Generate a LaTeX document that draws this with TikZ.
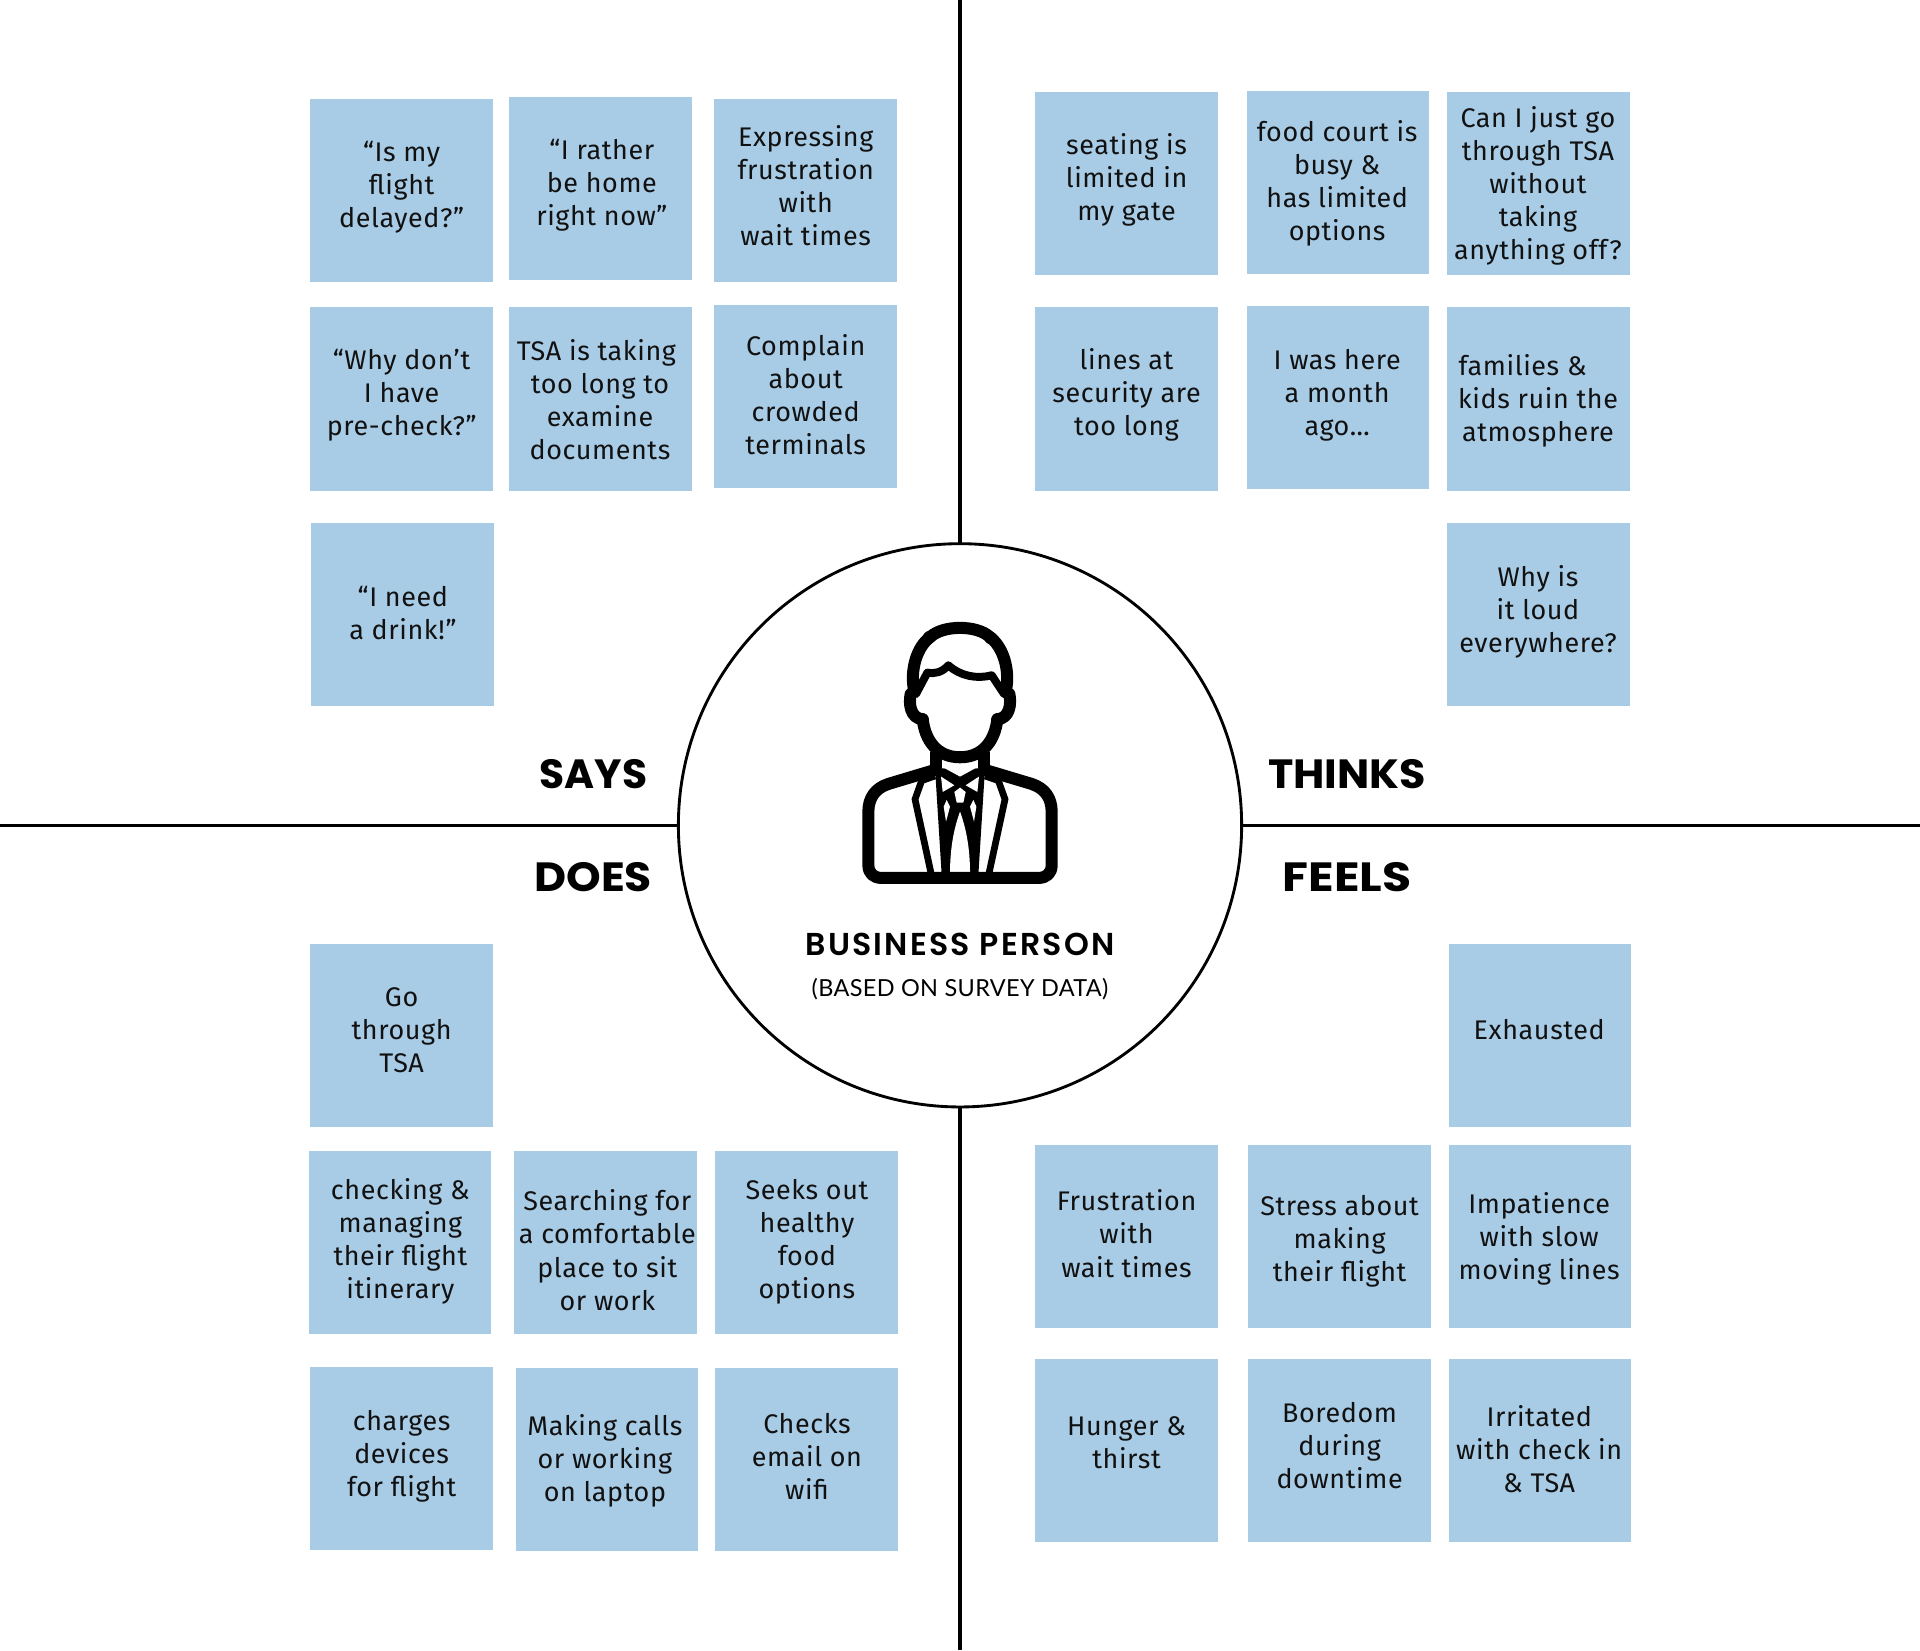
\documentclass[tikz,border=0pt]{standalone}
\usepackage{graphicx}
\usepackage{fontspec}
\setmainfont{Fira Sans}[LetterSpace=2.2]
\newfontfamily\headfont{Poppins}[UprightFont=* Bold]
\newfontfamily\titlefont{Poppins}[UprightFont=* SemiBold,LetterSpace=7]
\newfontfamily\subfont{Lato}[LetterSpace=1.5]
\definecolor{stickyblue}{HTML}{A9CCE6}
\definecolor{ink}{HTML}{111111}
\newcommand{\tsp}{\hspace*{3.6pt}}
\newcommand{\sticky}[6]{%
  \node[stickybox] (#1) at ({#2+74.7},{#3+74.8}) {};
  \node[stickytext] (#1t) at ({#4},{#5+2.5}) {\strut #6\strut};}
\newcommand{\wide}[2]{\scalebox{#1}[1]{#2}}
\tikzset{
  stickybox/.style={fill=stickyblue,draw=none,minimum width=89.6pt,minimum height=89.8pt,inner sep=0pt,outer sep=0pt},
  stickytext/.style={text=ink,align=center,inner sep=0pt,font=\fontsize{13.2pt}{16.2pt}\selectfont},
  quadlabel/.style={text=black,inner sep=0pt,font=\fontsize{20pt}{24pt}\selectfont\headfont},
  axis/.style={draw=black,line width=1.5pt},
  hubring/.style={circle,draw=black,fill=white,line width=1.4pt,minimum size=276pt,inner sep=0pt,outer sep=0pt},
  heavy/.style={line width=5.9pt,line cap=round,line join=round},
  medium/.style={line width=3.9pt,line cap=round,line join=round},
  thin/.style={line width=3.3pt,line cap=butt,line join=miter},
}
\begin{document}
\begin{tikzpicture}[x=0.6pt,y=-0.6pt]
\useasboundingbox (0,0) rectangle (1568,1347.5);
\node[hubring] (hub) at (784,674) {};
\coordinate (topEnd) at (784,0);
\coordinate (botEnd) at (784,1347.5);
\coordinate (leftEnd) at (0,674);
\coordinate (rightEnd) at (1568,674);
\draw[axis] (topEnd) -- (hub.north);
\draw[axis] (botEnd) -- (hub.south);
\draw[axis] (leftEnd) -- (hub.west);
\draw[axis] (rightEnd) -- (hub.east);
% SAYS
\sticky{s1}{253}{81}{328}{151}{“Is my\\flight\\delayed?”}
\sticky{s2}{416}{79}{491.5}{149}{“I rather\\be home\\right now”}
\sticky{s3}{583}{81}{658}{152}{Expressing\\frustration\\with\tsp\\wait times}
\sticky{s4}{253}{251}{328}{321}{“Why don’t\\I have\\pre-check?”}
\sticky{s5}{415.5}{251}{490}{327}{TSA is taking\tsp\\too long to\\examine\tsp\\documents}
\sticky{s6}{583}{249}{658}{323}{Complain\\about\\crowded\\terminals}
\sticky{s7}{254}{427}{329}{501}{“I need\\a drink!”}
% THINKS
\sticky{t1}{845}{75}{920}{145}{seating is\\limited in\\my gate}
\sticky{t2}{1018}{74}{1092}{148}{food court is\\busy \&\tsp\\has limited\tsp\\options}
\sticky{t3}{1182}{75}{1256}{150}{Can I just go\\through TSA\\without\\taking\\anything off?}
\sticky{t4}{845}{251}{920}{321}{lines at\\security are\\too long}
\sticky{t5}{1018}{250}{1092}{321}{I was here\\a month\\ago…}
\sticky{t6}{1182}{251}{1256}{326}{families \&\hspace*{15pt}\\kids ruin the\\atmosphere}
\sticky{t7}{1182}{427}{1256}{498}{Why is\\it loud\\everywhere?}
% DOES
\sticky{d1}{253}{771}{328}{841}{Go\\through\\TSA}
\sticky{d2}{252}{940}{327}{1012}{checking \&\\managing\\their flight\\itinerary}
\sticky{d3}{420}{940}{496}{1021.5}{Searching for\\a comfortable\\place to sit\\or work}
\sticky{d4}{584}{940}{659}{1012}{Seeks out\\healthy\tsp\\food\tsp\\options}
\sticky{d5}{253}{1116}{328}{1187}{charges\\devices\\for flight}
\sticky{d6}{421}{1117}{494}{1191}{Making calls\\or working\\on laptop}
\sticky{d7}{584}{1117}{659}{1190}{Checks\\email on\\wifi}
% FEELS
\sticky{f1}{1183}{771}{1257}{841}{Exhausted}
\sticky{f2}{845}{935}{920}{1008}{Frustration\\with\tsp\\wait times}
\sticky{f3}{1019}{935}{1094}{1012}{Stress about\\making\tsp\\their flight}
\sticky{f4}{1183}{935}{1257}{1010}{Impatience\\with slow\\moving lines}
\sticky{f5}{845}{1110}{920}{1178}{Hunger \&\\thirst}
\sticky{f6}{1019}{1110}{1094}{1181}{Boredom\\during\\downtime}
\sticky{f7}{1183}{1110}{1257}{1184}{Irritated\\with check in\\\& TSA}
% quadrant labels
\node[quadlabel] (lsays) at (484.5,632.5) {\wide{1.0}{SAYS}};
\node[quadlabel] (lthinks) at (1100,632.5) {\wide{1.05}{THINKS}};
\node[quadlabel] (ldoes) at (484.5,716.5) {\wide{1.08}{DOES}};
\node[quadlabel] (lfeels) at (1100,716.5) {\wide{1.16}{FEELS}};
\node[inner sep=0pt,text=black,font=\fontsize{15.5pt}{18pt}\selectfont\titlefont] (title) at (784,771) {BUSINESS PERSON};
\node[inner sep=0pt,text=black,font=\fontsize{11.5pt}{14pt}\selectfont\subfont] (subtitle) at (784,808) {(BASED ON SURVEY DATA)};
% icon, in crop coordinates
\begin{scope}[shift={(669.7,481.8)},x=0.1633pt,y=-0.1633pt]
  % centre column
  \fill[black] (345,535) -- (495,535) -- (475,855) -- (365,855) -- cycle;
  \fill[white] (365,505) -- (475,505) -- (475,530) -- (420,560) -- (365,530) -- cycle;
  \fill[white] (363,560) -- (403,586) -- (368,606) -- cycle;
  \fill[white] (477,560) -- (437,586) -- (472,606) -- cycle;
  \fill[white] (403,606) -- (420,593) -- (437,606) -- (430,638) -- (410,638) -- cycle;
  \fill[white] (380,630) -- (390,650) -- (378,695) -- (371,650) -- cycle;
  \fill[white] (460,630) -- (450,650) -- (462,695) -- (469,650) -- cycle;
  \fill[white] (420,665) .. controls (400,720) and (390,780) .. (390,850) -- (450,850) .. controls (450,780) and (440,720) .. (420,665) -- cycle;
  % shoulders and hem
  \draw[heavy] (345,540) -- (205,582) .. controls (165,595) and (145,625) .. (145,665) -- (145,825) .. controls (145,850) and (160,864) .. (185,864) -- (655,864) .. controls (680,864) and (695,850) .. (695,825) -- (695,665) .. controls (695,625) and (675,595) .. (635,582) -- (495,540);
  % lapels
  \draw[thin] (345,558) -- (305,572) -- (285,628) -- (333,850);
  \draw[thin] (495,558) -- (535,572) -- (555,628) -- (507,850);
  % neck
  \draw[heavy,line cap=butt] (348,485) -- (348,545);
  \draw[heavy,line cap=butt] (492,485) -- (492,545);
  % face
  \draw[heavy] (308,388) .. controls (315,450) and (350,502) .. (420,502) .. controls (490,502) and (525,450) .. (532,388);
  % ears
  \draw[heavy] (272,312) .. controls (266,340) and (270,385) .. (308,388);
  \draw[heavy] (568,312) .. controls (574,340) and (570,385) .. (532,388);
  % hair
  \draw[heavy] (282,300) .. controls (270,240) and (290,170) .. (332,140) .. controls (370,105) and (470,105) .. (508,140) .. controls (550,170) and (570,240) .. (558,300);
  \fill[black] (328,142) circle[radius=19];
  \fill[black] (512,144) circle[radius=19];
  \draw[medium] (288,312) -- (322,248) .. controls (345,252) and (365,248) .. (385,226) .. controls (420,258) and (470,268) .. (515,256) -- (552,312);
\end{scope}
\end{tikzpicture}
\end{document}
